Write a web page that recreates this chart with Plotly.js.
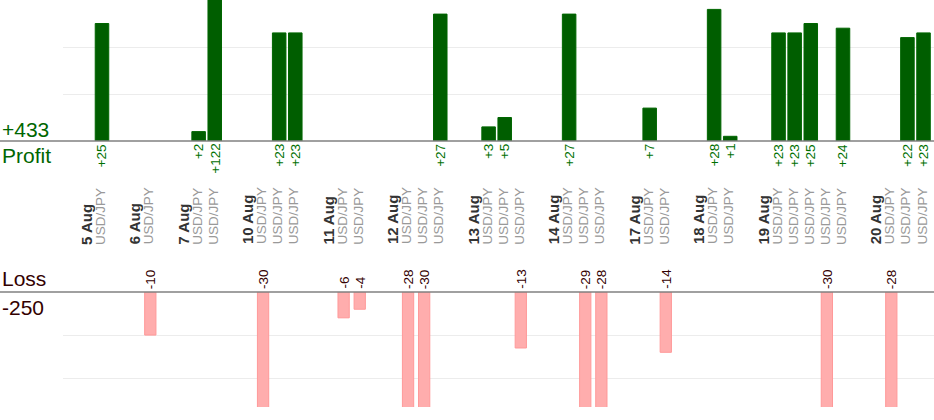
<!DOCTYPE html>
<html>
<head>
<meta charset="utf-8">
<script src="https://cdn.plot.ly/plotly-3.0.1.min.js"></script>
<style>html,body{margin:0;padding:0;background:#fff;}#chart{width:934px;height:420px;}</style>
</head>
<body>
<div id="chart"></div>
<script>
// ---- data ----
var days = ['5 Aug', '6 Aug', '7 Aug', '10 Aug', '11 Aug', '12 Aug', '13 Aug', '14 Aug', '17 Aug', '18 Aug', '19 Aug', '20 Aug'];
var tradeDay = [0, 1, 2, 2, 3, 3, 3, 4, 4, 5, 5, 5, 6, 6, 6, 7, 7, 7, 8, 8, 9, 9, 10, 10, 10, 10, 10, 11, 11, 11];
var tradeSymbol = ['USD/JPY','USD/JPY','USD/JPY','USD/JPY','USD/JPY','USD/JPY','USD/JPY','USD/JPY','USD/JPY','USD/JPY',
                   'USD/JPY','USD/JPY','USD/JPY','USD/JPY','USD/JPY','USD/JPY','USD/JPY','USD/JPY','USD/JPY','USD/JPY',
                   'USD/JPY','USD/JPY','USD/JPY','USD/JPY','USD/JPY','USD/JPY','USD/JPY','USD/JPY','USD/JPY','USD/JPY'];
var tradePnl = [25, -10, 2, 122, -30, 23, 23, -6, -4, -28, -30, 27, 3, 5, -13, 27, -29, -28, 7, -14, 28, 1, 23, 23, 25, -30, 24, -28, 22, 23];
var profitTitle = 'Profit';
var lossTitle = 'Loss';

// ---- slot positions (each day followed by a 2-slot gap) ----
var slot = [];
var firstOfDay = {};
var pos = 0;
for (var d = 0; d < days.length; d++) {
  var n = 0;
  for (var i = 0; i < tradeDay.length; i++) {
    if (tradeDay[i] === d) {
      if (n === 0) firstOfDay[d] = pos;
      slot[i] = pos; pos++; n++;
    }
  }
  pos += 2;
}

var profX = [], profY = [], lossX = [], lossY = [];
var totalProfit = 0, totalLoss = 0;
for (var i = 0; i < tradePnl.length; i++) {
  if (tradePnl[i] >= 0) { profX.push(slot[i]); profY.push(tradePnl[i]); totalProfit += tradePnl[i]; }
  else { lossX.push(slot[i]); lossY.push(tradePnl[i]); totalLoss += tradePnl[i]; }
}

var FONT = 'Liberation Sans, Arial, Helvetica, sans-serif';
var green = '#006600';
var brown = '#330000';

var traces = [
  {type: 'bar', x: profX, y: profY, xaxis: 'x', yaxis: 'y', width: 0.84,
   marker: {color: '#005e00', line: {color: '#006600', width: 1}}, hoverinfo: 'skip'},
  {type: 'bar', x: lossX, y: lossY, xaxis: 'x', yaxis: 'y2', width: 0.7,
   marker: {color: '#ffadad', line: {color: '#ff9999', width: 1}}, hoverinfo: 'skip'}
];

var ann = [];
// trade labels
for (var i = 0; i < tradePnl.length; i++) {
  ann.push({x: slot[i], xref: 'x', y: 1 - 246.5/420, yref: 'paper', yanchor: 'bottom', xanchor: 'center',
    xshift: -2, text: tradeSymbol[i], textangle: -90, showarrow: false,
    font: {family: FONT, size: 13.5, color: '#999999'}});
  var v = tradePnl[i];
  if (v >= 0) {
    ann.push({x: slot[i], xref: 'x', y: 0, yref: 'y', yanchor: 'top', xanchor: 'center', yshift: -1,
      text: '+' + v, textangle: -90, showarrow: false, font: {family: FONT, size: 13.5, color: '#007000'}});
  } else {
    ann.push({x: slot[i], xref: 'x', y: 0, yref: 'y2', yanchor: 'bottom', xanchor: 'center', yshift: 1,
      text: String(v), textangle: -90, showarrow: false, font: {family: FONT, size: 13.5, color: brown}});
  }
}
// date labels
for (var d = 0; d < days.length; d++) {
  ann.push({x: firstOfDay[d], xref: 'x', y: 1 - 246.5/420, yref: 'paper', yanchor: 'bottom', xanchor: 'center',
    xshift: -16, text: '<b>' + days[d] + '</b>', textangle: -90, showarrow: false,
    font: {family: FONT, size: 15, color: '#333333'}});
}
// totals
ann.push({x: 0, xref: 'paper', xanchor: 'left', xshift: -63, y: 0, yref: 'y', yanchor: 'bottom', yshift: -2,
  text: '+' + totalProfit, showarrow: false, font: {family: FONT, size: 21, color: green}});
ann.push({x: 0, xref: 'paper', xanchor: 'left', xshift: -63, y: 0, yref: 'y', yanchor: 'top', yshift: -1,
  text: profitTitle, showarrow: false, font: {family: FONT, size: 21, color: green}});
ann.push({x: 0, xref: 'paper', xanchor: 'left', xshift: -63, y: 0, yref: 'y2', yanchor: 'bottom', yshift: 0,
  text: lossTitle, showarrow: false, font: {family: FONT, size: 21, color: brown}});
ann.push({x: 0, xref: 'paper', xanchor: 'left', xshift: -63, y: 0, yref: 'y2', yanchor: 'top', yshift: -2,
  text: String(totalLoss), showarrow: false, font: {family: FONT, size: 21, color: brown}});

var leftPaper = -63 / 871;
var layout = {
  width: 934, height: 420,
  margin: {l: 63, r: 0, t: 0, b: 0, pad: 0},
  paper_bgcolor: '#ffffff', plot_bgcolor: 'rgba(0,0,0,0)',
  showlegend: false, barmode: 'overlay',
  font: {family: FONT},
  xaxis: {range: [-2.42, 51.65], visible: false, fixedrange: true},
  yaxis: {domain: [1 - 141/420, 1], range: [0, 30], dtick: 10, showticklabels: false, ticks: '',
          gridcolor: '#ececec', gridwidth: 1, zeroline: false, showline: false, fixedrange: true},
  yaxis2: {domain: [1 - 407/420, 1 - 292/420], range: [-26.7, 0], dtick: 10, showticklabels: false, ticks: '',
           gridcolor: '#ececec', gridwidth: 1, zeroline: false, showline: false, fixedrange: true},
  shapes: [
    {type: 'line', xref: 'paper', yref: 'y domain', x0: leftPaper, x1: 1, y0: 0, y1: 0,
     line: {color: '#808080', width: 1.5}, layer: 'above'},
    {type: 'line', xref: 'paper', yref: 'y2 domain', x0: leftPaper, x1: 1, y0: 1, y1: 1,
     line: {color: '#808080', width: 1.5}, layer: 'above'}
  ],
  annotations: ann
};

Plotly.newPlot('chart', traces, layout, {staticPlot: true, displayModeBar: false});
</script>
</body>
</html>
